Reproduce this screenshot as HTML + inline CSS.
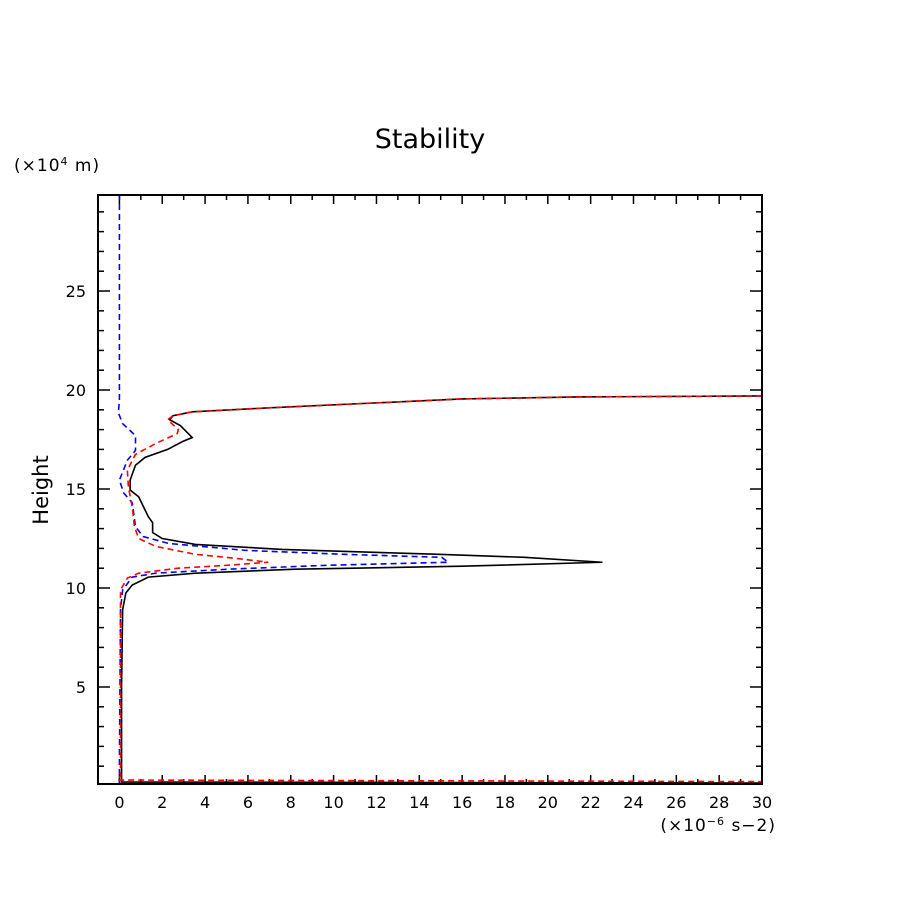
<!DOCTYPE html>
<html><head><meta charset="utf-8"><style>
html,body{margin:0;padding:0;background:#fff;}
svg{display:block;font-family:"DejaVu Sans","Liberation Sans",sans-serif;}
</style></head><body>
<svg id="chart" width="904" height="904" viewBox="0 0 904 904" xmlns="http://www.w3.org/2000/svg">
<rect width="904" height="904" fill="#fff"/>
<text x="430" y="148" font-size="27" text-anchor="middle">Stability</text>
<text x="14" y="171" font-size="17" letter-spacing="1">(×10<tspan font-size="11" dy="-6">4</tspan><tspan dy="6"> m)</tspan></text>
<text x="48" y="490" font-size="21" text-anchor="middle" transform="rotate(-90 48 490)">Height</text>
<text x="776" y="831" font-size="17" letter-spacing="1" text-anchor="end">(×10<tspan font-size="11" dy="-6">−6</tspan><tspan dy="6"> s−2)</tspan></text>
<g id="ticks"></g>
<g id="series"></g>
<rect x="98" y="195" width="664" height="589" fill="none" stroke="#000" stroke-width="2"/>
</svg>
<script>
const xTicks=[0,2,4,6,8,10,12,14,16,18,20,22,24,26,28,30];
const yTicks=[5,10,15,20,25];
const blackX=[30,21.4,16,7,3.4,2.5,2.35,2.85,3.4,2.95,2.25,1.2,0.75,0.5,0.5,0.9,1.35,1.55,1.55,2.0,3.55,7.6,14.9,18.9,22.55,16,8.2,3.55,1.35,0.6,0.3,0.15,0.1,0.1,30];
const blackY=[19.7,19.65,19.55,19.1,18.9,18.7,18.5,18.2,17.6,17.4,17.0,16.6,16.2,15.45,14.95,14.6,13.6,13.3,12.8,12.5,12.2,11.95,11.7,11.55,11.3,11.1,10.95,10.75,10.55,10.15,9.75,8.9,5,0.2,0.15];
const redX=[30,21.4,16,7,3.4,2.5,2.25,2.75,2.7,1.7,0.75,0.37,0.42,0.6,0.7,0.9,1.7,3.55,5.4,6.95,5.1,2.75,0.9,0.37,0.05,0.05,0.05,-0.1,30];
const redY=[19.7,19.65,19.55,19.1,18.9,18.7,18.5,18.0,17.8,17.3,16.75,15.95,15.1,14.1,13.1,12.5,12.1,11.7,11.5,11.3,11.15,11.0,10.75,10.5,9.9,8.9,0.5,0.3,0.22];
const blueX=[0,0,-0.05,0.15,0.75,0.75,0.37,0,0.2,0.6,0.75,1.1,2.3,5.9,10.5,15.05,15.35,9.75,5.1,1.7,0.6,0.15,0.05,0.0,0.0];
const blueY=[29.9,19.5,18.85,18.3,17.7,16.95,16.45,15.45,14.8,14.3,13.1,12.6,12.25,11.9,11.7,11.55,11.3,11.15,10.95,10.75,10.55,9.9,8.9,1,0.15];
const X0=98,X1=762,Y0=784,Y1=195,xmin=-1,xmax=30,ymin=0.1,ymax=29.85;
function sx(v){return X0+(v-xmin)/(xmax-xmin)*(X1-X0);}
function sy(v){return Y0-(v-ymin)/(ymax-ymin)*(Y0-Y1);}
const NS="http://www.w3.org/2000/svg";
const tg=document.getElementById('ticks');
function line(x1,y1,x2,y2,name){const l=document.createElementNS(NS,'line');l.setAttribute('x1',x1);l.setAttribute('y1',y1);l.setAttribute('x2',x2);l.setAttribute('y2',y2);l.setAttribute('stroke','#000');l.setAttribute('stroke-width','1.5');


tg.appendChild(l);}
for(let v=-1;v<=30;v++){const x=sx(v);const major=(v%2===0);const len=major?9:5;line(x,Y0,x,Y0-len,'x-tick');line(x,Y1,x,Y1+len,'x-tick-top');}
for(let v=1;v<=29;v++){const y=sy(v);const major=(v%5===0);const len=major?12:6;line(X0,y,X0+len,y,'y-tick');line(X1,y,X1-len,y,'y-tick-right');}
xTicks.forEach(v=>{const t=document.createElementNS(NS,'text');t.setAttribute('x',sx(v));t.setAttribute('y',808);t.setAttribute('font-size','16');t.setAttribute('text-anchor','middle');t.textContent=v;


tg.appendChild(t);});
yTicks.forEach(v=>{const t=document.createElementNS(NS,'text');t.setAttribute('x',86);t.setAttribute('y',sy(v)+6);t.setAttribute('font-size','16');t.setAttribute('text-anchor','end');t.textContent=v;


tg.appendChild(t);});
const sg=document.getElementById('series');
function series(xs,ys,color,dash,name){const p=document.createElementNS(NS,'polyline');p.setAttribute('points',xs.map((x,i)=>Math.min(Math.max(sx(x),X0),X1)+','+sy(ys[i])).join(' '));p.setAttribute('fill','none');p.setAttribute('stroke',color);p.setAttribute('stroke-width','1.6');if(dash)p.setAttribute('stroke-dasharray',dash);


sg.appendChild(p);}
series(blackX,blackY,'#000',null,'black-series');
series(blueX,blueY,'#0000ff','6,4','blue-series');
series(redX,redY,'#ff0000','6,4','red-series');
</script>
</body></html>
